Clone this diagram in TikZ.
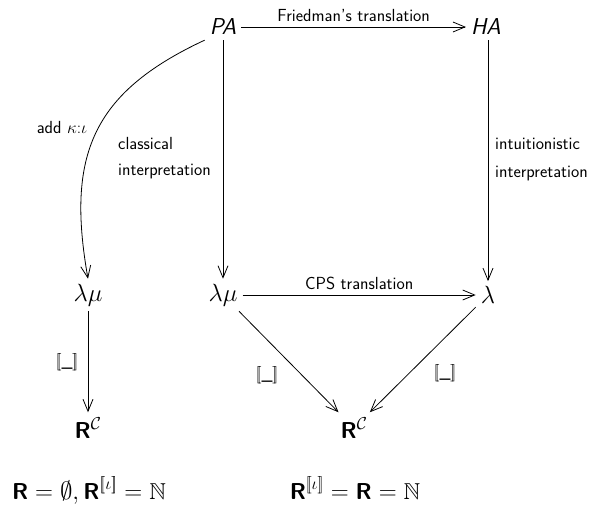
\documentclass[tikz,border=0pt]{standalone}
\usepackage{amsmath,amssymb}
\usepackage{fontspec}
\renewcommand{\familydefault}{\sfdefault}
\usetikzlibrary{arrows.meta}
\newcommand{\bR}{\textbf{R}}
\newcommand{\lsb}{\mathopen{[\mkern-3mu[}}
\newcommand{\rsb}{\mathclose{]\mkern-3mu]}}
\tikzset{
 obj/.style={font=\fontsize{23}{27}\selectfont, inner sep=5pt},
 bot/.style={font=\fontsize{23}{27}\selectfont, inner sep=0pt, anchor=base},
 lbl/.style={font=\fontsize{17.5}{20}\selectfont, inner sep=1pt},
 arr/.style={-{Straight Barb[length=12pt,width=10pt]}, line width=0.8pt},
}
\begin{document}
\begin{tikzpicture}[x=1pt,y=-1pt]
\useasboundingbox (0,0) rectangle (594,506);
\node[obj] (PA) at (223,27) {\textit{PA}};
\node[obj] (HA) at (486,27) {\textit{HA}};
\node[obj] (LML) at (88,295) {$\lambda\mu$};
\node[obj] (LMM) at (223,295) {$\lambda\mu$};
\node[obj] (L) at (488,295) {$\lambda$};
\node[obj] (RL) at (88,428) {$\bR^{\mathcal{C}}$};
\node[obj] (RM) at (354,428) {$\bR^{\mathcal{C}}$};
\node[bot] (BL) at (89,499) {$\bR=\emptyset,\bR^{\lsb\iota\rsb}=\mathbb{N}$};
\node[bot] (BR) at (355,499) {$\bR^{\lsb\iota\rsb}=\bR=\mathbb{N}$};

\draw[arr] (PA) -- node[lbl, above=4pt] {Friedman’s translation} (HA);
\draw[arr] (LMM) -- node[lbl, above=4pt] {CPS translation} (L);
\draw[arr] (PA) -- (LMM);
\draw[arr] (HA.south -| L) -- (L);
\draw[arr] (PA.south west) to[out=205, in=100, looseness=1.2] (LML.north);
\draw[arr] (LML) -- (RL);
\draw[arr] (LMM) -- (RM);
\draw[arr] (L) -- (RM);

\node[lbl, anchor=west] (cl1) at (117,143) {classical};
\node[lbl, anchor=west] (cl2) at (117,172) {interpretation};
\node[lbl, anchor=west] (in1) at (494,144) {intuitionistic};
\node[lbl, anchor=west] (in2) at (494,174) {interpretation};
\node[lbl] (add) at (62,127) {add $\kappa{:}\iota$};
\node[lbl] (s1) at (67,362) {$\lsb\_\rsb$};
\node[lbl] (s2) at (267,375) {$\lsb\_\rsb$};
\node[lbl] (s3) at (445,373) {$\lsb\_\rsb$};
\end{tikzpicture}
\end{document}
